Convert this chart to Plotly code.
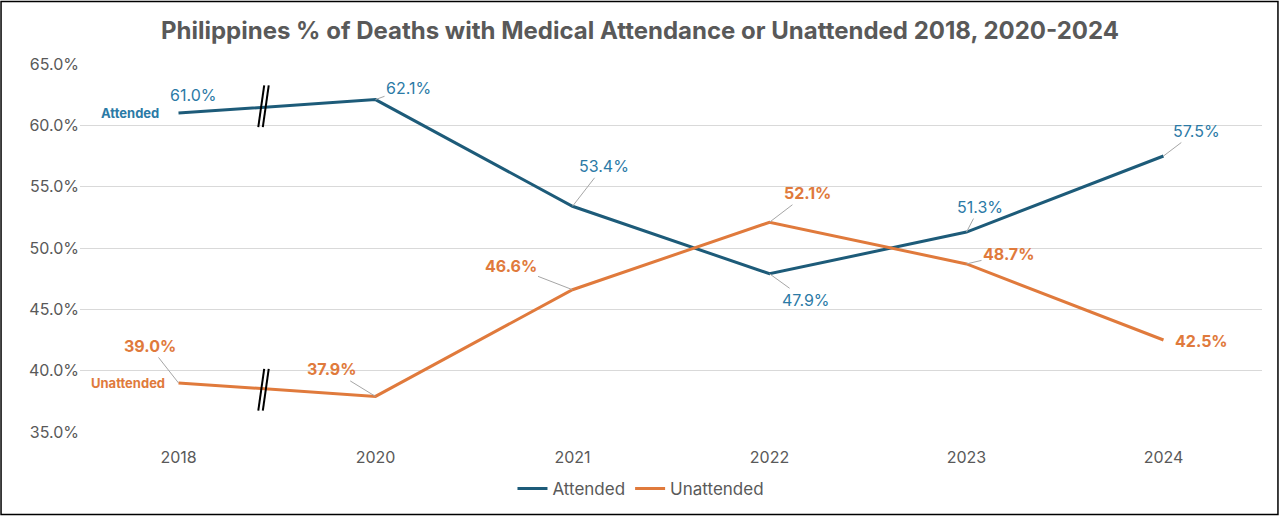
import plotly.graph_objects as go

years = ["2018", "2020", "2021", "2022", "2023", "2024"]
attended = [61.0, 62.1, 53.4, 47.9, 51.3, 57.5]
unattended = [39.0, 37.9, 46.6, 52.1, 48.7, 42.5]
y_ticks = [35, 40, 45, 50, 55, 60, 65]

C_ATT = "#1d5b79"
C_ATT_LBL = "#2b7aa6"
C_UN = "#e07a3c"
GRAY = "#595959"
FONT = "Inter, Open Sans, sans-serif"

fig = go.Figure()
fig.add_trace(go.Scatter(x=years, y=attended, mode="lines", name="Attended",
                         line=dict(color=C_ATT, width=3)))
fig.add_trace(go.Scatter(x=years, y=unattended, mode="lines", name="Unattended",
                         line=dict(color=C_UN, width=3)))

# label offsets in pixels (ax, ay) and whether leader line
att_off = [(14, -18, False), (33, -12, True), (31, -40, True), (36, 26, True), (13, -25, True), (33, -25, True)]
un_off = [(-29, -37, True), (-44, -27, True), (-62, -24, True), (38, -29, True), (42, -10, True), (38, 1, False)]

ann = []
def add_labels(vals, offs, color, bold):
    for i, (v, (ax, ay, arrow)) in enumerate(zip(vals, offs)):
        txt = f"{v:.1f}%"
        if bold:
            txt = f"<b>{txt}</b>"
        if arrow:
            ann.append(dict(x=i, y=v, xref="x", yref="y", text=txt,
                            showarrow=True, arrowhead=0, arrowwidth=1,
                            arrowcolor="#a6a6a6", ax=ax, ay=ay, standoff=0,
                            font=dict(size=16, color=color, family=FONT)))
        else:
            ann.append(dict(x=i, y=v, xref="x", yref="y", text=txt,
                            showarrow=False, xshift=ax, yshift=-ay,
                            font=dict(size=16, color=color, family=FONT)))

add_labels(attended, att_off, C_ATT_LBL, False)
add_labels(unattended, un_off, C_UN, True)

# series name labels
ann.append(dict(x=0, y=attended[0], xref="x", yref="y", text="<b>Attended</b>",
                showarrow=False, xanchor="right", xshift=-18, yshift=0,
                font=dict(size=13, color=C_ATT_LBL, family=FONT)))
ann.append(dict(x=0, y=unattended[0], xref="x", yref="y", text="<b>Unattended</b>",
                showarrow=False, xanchor="right", xshift=-12, yshift=0,
                font=dict(size=13, color=C_UN, family=FONT)))

shapes = []
# axis break marks between 2018 and 2020
for base in (attended, unattended):
    mid = (base[0] + base[1]) / 2
    for c in (0.42, 0.443):
        shapes.append(dict(type="line", xref="x", yref="y",
                           x0=c - 0.015, y0=mid - 1.7,
                           x1=c + 0.015, y1=mid + 1.7,
                           line=dict(color="black", width=2)))
# outer border
shapes.append(dict(type="rect", xref="paper", yref="paper",
                   x0=-0.0668, x1=1.0135, y0=-0.2243, y1=1.170,
                   line=dict(color="black", width=1.5)))

fig.update_layout(
    width=1280, height=519,
    margin=dict(l=80, r=18, t=64, b=85),
    plot_bgcolor="white", paper_bgcolor="white",
    title=dict(text="<b>Philippines % of Deaths with Medical Attendance or Unattended 2018, 2020-2024</b>",
               x=0.5, xref="container", y=0.942, yanchor="middle",
               font=dict(size=24, color=GRAY, family=FONT)),
    xaxis=dict(type="category", range=[-0.5, 5.5], showgrid=False, showline=False,
               ticks="", ticklabelstandoff=14,
               tickfont=dict(size=16, color=GRAY, family=FONT)),
    yaxis=dict(range=[35, 65], tickvals=y_ticks,
               ticktext=[f"{t:.1f}%" for t in y_ticks],
               showgrid=True, gridcolor="#d9d9d9", gridwidth=1, zeroline=False,
               showline=False, ticks="", tickfont=dict(size=16, color=GRAY, family=FONT)),
    legend=dict(orientation="h", x=0.4746, xanchor="center", y=-0.155, yanchor="middle",
                font=dict(size=17, color=GRAY, family=FONT), itemwidth=30),
    annotations=ann, shapes=shapes,
)

fig.write_html("out.html", config={"displayModeBar": False},
               post_script="document.body.style.margin='0';document.body.style.overflow='hidden';")
